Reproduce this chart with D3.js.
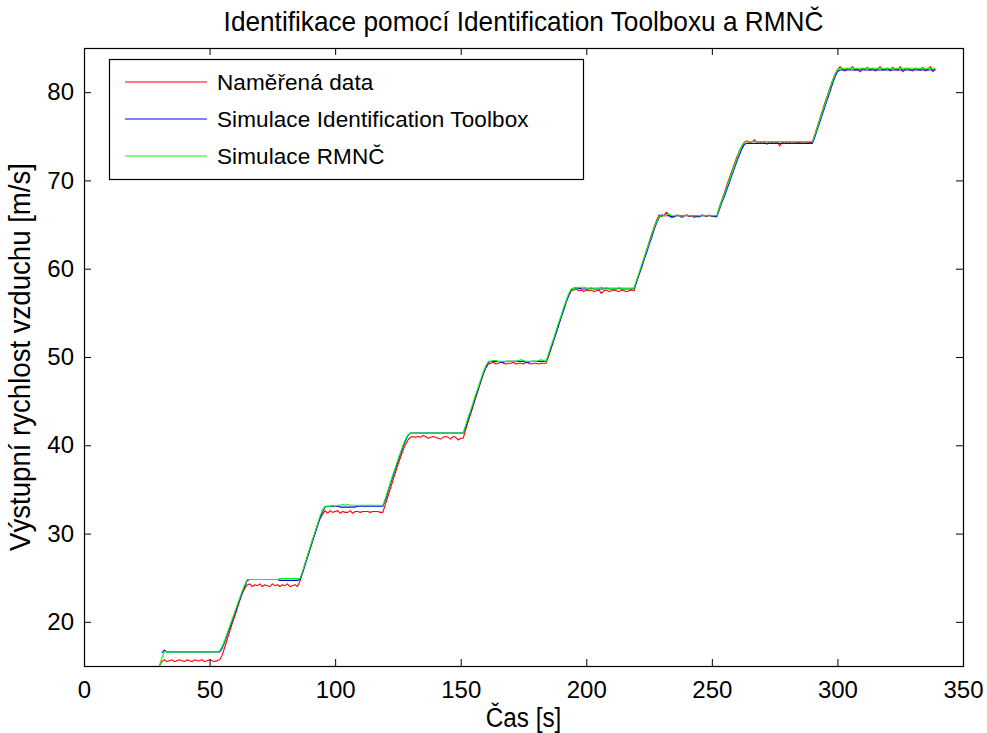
<!DOCTYPE html>
<html>
<head>
<meta charset="utf-8">
<script src="https://cdn.jsdelivr.net/npm/d3@7"></script>
<style>
  html, body { margin: 0; padding: 0; background: #fff; }
  svg { display: block; }
  text { font-family: "Liberation Sans", Arial, sans-serif; }
</style>
</head>
<body>
<script>
// Sampling: one value per second, starting at t = 30 s
const tStart = 30;
const tStep = 1;

const xTicks = [0, 50, 100, 150, 200, 250, 300, 350];
const yTicks = [20, 30, 40, 50, 60, 70, 80];

const seriesNames = ["Naměřená data", "Simulace Identification Toolbox", "Simulace RMNČ"];
const seriesColors = ["#ff0000", "#0000ff", "#00ff00"];

// Measured output air speed [m/s]
const measured = [
  15.0,
  15.5,15.7,15.5,15.6,15.7,15.5,15.6,15.7,15.6,15.5,15.7,15.6,15.5,15.7,15.6,15.6,15.7,15.5,15.6,15.7,15.6,15.5,15.6,15.7,
  16.2,17.1,18.0,18.9,19.8,20.6,21.5,22.4,23.2,23.8,24.2,
  24.3,24.0,24.2,24.1,24.3,24.0,24.2,24.1,24.0,24.3,24.1,24.2,24.0,24.2,24.1,24.3,24.0,24.1,24.2,24.0,
  24.6,25.6,26.6,27.5,28.4,29.3,30.1,31.0,31.7,32.2,32.6,
  32.3,32.6,32.4,32.5,32.6,32.3,32.5,32.4,32.4,32.6,32.3,32.5,32.5,32.4,32.5,32.5,32.5,32.4,32.5,32.5,32.5,32.4,32.4,
  33.3,34.2,35.1,36.0,36.9,37.8,38.6,39.4,40.1,40.6,40.9,
  41.0,40.9,41.0,40.9,41.1,41.0,40.8,40.9,41.0,40.9,40.8,40.7,40.9,41.0,40.9,40.7,41.0,40.9,40.6,40.8,40.8,
  41.8,42.7,43.6,44.5,45.4,46.3,47.2,48.1,48.8,49.2,
  49.3,49.4,49.2,49.3,49.4,49.3,49.2,49.3,49.3,49.4,49.2,49.3,49.3,49.2,49.4,49.3,49.2,49.3,49.3,49.2,49.3,49.3,49.3,
  50.1,51.0,51.9,52.8,53.7,54.6,55.5,56.3,57.0,57.5,
  57.6,57.7,57.5,57.6,57.4,57.6,57.5,57.6,57.4,57.5,57.6,57.2,57.5,57.6,57.4,57.5,57.6,57.5,57.4,57.6,57.5,57.4,57.5,57.6,57.5,
  58.5,59.4,60.3,61.2,62.1,63.0,63.9,64.7,65.5,66.1,
  65.9,66.1,66.4,66.0,65.8,65.9,66.1,66.0,65.8,66.0,66.1,65.9,66.0,65.8,66.0,65.9,66.1,66.0,65.9,66.1,65.9,66.0,66.0,
  67.0,67.8,68.6,69.5,70.3,71.1,71.9,72.7,73.4,73.9,74.3,
  74.5,74.2,74.4,74.6,74.3,74.2,74.4,74.3,74.1,74.4,74.3,74.2,74.4,73.9,74.3,74.4,74.2,74.3,74.4,74.2,74.3,74.3,74.4,74.2,74.3,74.3,74.3,
  75.2,76.1,77.0,77.9,78.8,79.6,80.5,81.3,82.0,82.5,
  82.9,82.6,82.4,82.7,82.6,82.9,82.5,82.6,82.3,82.7,82.6,82.8,82.5,82.7,82.4,82.6,82.9,82.5,82.6,82.7,
  82.4,82.8,82.6,82.5,82.9,82.3,82.6,82.7,82.5,82.4,82.7,82.6,82.5,82.8,82.4,82.6,82.9,82.3,82.6
];

// Model simulated with the Identification Toolbox
const simToolbox = [
  null,
  16.5,16.8,16.6,16.6,16.6,16.6,16.6,16.6,16.6,16.6,16.6,16.6,16.6,16.6,16.6,16.6,16.6,16.6,16.6,16.6,16.6,16.6,16.6,16.6,
  17.0,17.7,18.5,19.3,20.1,20.9,21.7,22.5,23.3,24.0,24.7,
  24.8,24.8,24.8,24.8,24.8,24.8,24.8,24.8,24.8,24.8,24.8,24.8,24.7,24.7,24.7,24.7,24.7,24.7,24.7,24.7,
  24.8,25.5,26.4,27.3,28.2,29.1,30.0,30.9,31.8,32.5,33.0,
  33.1,33.1,33.1,33.1,33.1,33.0,33.0,33.0,33.0,33.0,33.0,33.0,33.1,33.1,33.1,33.1,33.1,33.1,33.1,33.1,33.1,33.1,33.1,
  33.8,34.7,35.6,36.5,37.3,38.2,39.0,39.8,40.5,41.1,41.4,
  41.4,41.4,41.4,41.4,41.4,41.4,41.4,41.4,41.4,41.4,41.4,41.4,41.4,41.4,41.4,41.4,41.4,41.4,41.4,41.4,41.4,
  42.1,43.0,43.8,44.7,45.6,46.4,47.3,48.1,48.8,49.4,
  49.5,49.5,49.5,49.5,49.4,49.4,49.5,49.5,49.5,49.5,49.5,49.5,49.5,49.5,49.4,49.4,49.5,49.5,49.5,49.5,49.5,49.5,49.5,
  50.2,51.0,51.9,52.7,53.6,54.5,55.3,56.2,57.0,57.6,
  57.8,57.8,57.8,57.7,57.7,57.7,57.7,57.8,57.7,57.7,57.7,57.7,57.7,57.8,57.7,57.7,57.7,57.7,57.8,57.7,57.7,57.7,57.7,57.7,57.8,
  58.5,59.3,60.1,61.0,61.8,62.7,63.5,64.4,65.2,65.8,
  66.1,66.0,66.0,66.0,65.9,65.9,66.0,66.0,66.0,66.0,66.0,66.0,66.0,66.0,65.9,65.9,66.0,66.0,66.0,66.0,66.0,65.9,65.9,
  66.7,67.5,68.2,69.0,69.8,70.6,71.4,72.2,72.9,73.6,74.1,
  74.2,74.2,74.2,74.2,74.2,74.2,74.2,74.2,74.2,74.2,74.2,74.2,74.2,74.2,74.2,74.2,74.2,74.2,74.2,74.2,74.2,74.2,74.2,74.2,74.2,74.2,74.2,
  74.9,75.8,76.6,77.5,78.3,79.2,80.0,80.9,81.7,82.3,
  82.5,82.5,82.5,82.5,82.5,82.5,82.5,82.5,82.5,82.5,82.5,82.5,82.5,82.5,82.5,82.5,82.5,82.5,82.5,82.5,
  82.5,82.5,82.5,82.5,82.5,82.5,82.5,82.5,82.5,82.5,82.5,82.5,82.5,82.5,82.5,82.5,82.5,82.5,82.5
];

// Model identified by recursive least squares (RMNČ)
const simRmnc = [
  15.0,
  15.9,16.6,16.6,16.6,16.6,16.6,16.6,16.6,16.6,16.6,16.6,16.6,16.6,16.6,16.6,16.6,16.6,16.6,16.6,16.6,16.6,16.6,16.6,16.7,
  17.2,17.9,18.7,19.5,20.3,21.1,21.9,22.7,23.5,24.2,24.8,
  24.8,24.8,24.8,24.8,24.8,24.8,24.8,24.8,24.8,24.8,24.8,24.8,24.9,24.9,24.9,24.9,24.9,24.9,24.9,24.9,
  24.9,25.7,26.6,27.5,28.4,29.3,30.2,31.1,32.0,32.7,33.1,
  33.1,33.1,33.2,33.1,33.2,33.2,33.3,33.2,33.3,33.2,33.2,33.2,33.2,33.2,33.2,33.2,33.2,33.2,33.2,33.2,33.2,33.2,33.2,
  34.0,34.9,35.8,36.7,37.5,38.4,39.2,40.0,40.7,41.2,41.4,
  41.4,41.4,41.4,41.4,41.4,41.4,41.4,41.4,41.4,41.4,41.4,41.4,41.4,41.4,41.4,41.4,41.4,41.4,41.4,41.4,41.4,
  42.3,43.2,44.0,44.9,45.8,46.6,47.5,48.3,49.0,49.5,
  49.5,49.6,49.6,49.5,49.5,49.5,49.5,49.5,49.5,49.5,49.5,49.6,49.7,49.6,49.5,49.5,49.5,49.5,49.5,49.6,49.7,49.6,49.5,
  50.4,51.3,52.1,53.0,53.9,54.7,55.6,56.4,57.2,57.7,
  57.8,57.8,57.9,57.9,57.9,57.8,57.8,57.8,57.8,57.8,57.8,57.9,57.8,57.8,57.8,57.8,57.8,57.8,57.8,57.8,57.8,57.8,57.8,57.8,57.8,
  58.7,59.5,60.4,61.2,62.1,62.9,63.8,64.6,65.4,65.9,
  66.0,66.0,66.1,66.2,66.0,66.0,66.0,66.0,66.0,66.0,66.1,66.0,66.0,66.0,66.0,66.0,66.0,66.0,66.0,66.0,66.0,66.0,66.0,
  66.9,67.7,68.5,69.3,70.1,70.9,71.7,72.5,73.3,74.0,74.4,
  74.4,74.4,74.4,74.4,74.4,74.4,74.4,74.4,74.4,74.4,74.4,74.4,74.4,74.4,74.4,74.4,74.4,74.4,74.4,74.4,74.4,74.4,74.4,74.4,74.4,74.4,74.4,
  75.1,76.0,76.9,77.8,78.6,79.5,80.4,81.2,82.0,82.6,
  82.7,82.7,82.7,82.7,82.7,82.7,82.7,82.7,82.7,82.7,82.7,82.7,82.7,82.7,82.7,82.7,82.7,82.7,82.7,82.7,
  82.7,82.7,82.7,82.7,82.7,82.7,82.7,82.7,82.7,82.7,82.7,82.7,82.7,82.7,82.7,82.7,82.7,82.7,82.7
];

const W = 987, H = 733;
const plot = { left: 84, top: 48, right: 963, bottom: 666 };

const svg = d3.select("body").append("svg")
  .attr("width", W).attr("height", H);

const x = d3.scaleLinear().domain([0, 350]).range([plot.left, plot.right]);
const y = d3.scaleLinear().domain([15, 85]).range([plot.bottom, plot.top]);

// Series lines, clipped to the axes box
svg.append("clipPath").attr("id", "plot-clip")
  .append("rect")
  .attr("x", plot.left).attr("y", plot.top)
  .attr("width", plot.right - plot.left).attr("height", plot.bottom - plot.top);

const line = d3.line()
  .defined(d => d.v !== null)
  .x(d => x(d.t))
  .y(d => y(d.v));

const toPoints = arr => arr.map((v, i) => ({ t: tStart + i * tStep, v }));

const lines = svg.append("g").attr("clip-path", "url(#plot-clip)");
[measured, simToolbox, simRmnc].forEach((arr, k) => {
  lines.append("path")
    .datum(toPoints(arr))
    .attr("fill", "none")
    .attr("stroke", seriesColors[k])
    .attr("stroke-width", 1.1)
    .attr("stroke-linejoin", "round")
    .attr("d", line);
});

// Axes: ticks point inward on all four sides
const tickLen = 7;
const fontTick = 24;

function styleAxis(g) {
  g.select(".domain").remove();
  g.selectAll(".tick line").attr("stroke", "#000").attr("stroke-width", 1);
  g.selectAll(".tick text").attr("fill", "#000").attr("font-size", fontTick);
}

svg.append("g")
  .attr("transform", `translate(0,${plot.bottom})`)
  .call(d3.axisBottom(x).tickValues(xTicks).tickSizeInner(-tickLen).tickSizeOuter(0).tickPadding(15))
  .call(styleAxis);

svg.append("g")
  .attr("transform", `translate(0,${plot.top})`)
  .call(d3.axisTop(x).tickValues(xTicks).tickSizeInner(-tickLen).tickSizeOuter(0).tickFormat(""))
  .call(styleAxis);

svg.append("g")
  .attr("transform", `translate(${plot.left},0)`)
  .call(d3.axisLeft(y).tickValues(yTicks).tickSizeInner(-tickLen).tickSizeOuter(0).tickPadding(10))
  .call(styleAxis);

svg.append("g")
  .attr("transform", `translate(${plot.right},0)`)
  .call(d3.axisRight(y).tickValues(yTicks).tickSizeInner(-tickLen).tickSizeOuter(0).tickFormat(""))
  .call(styleAxis);

svg.append("rect")
  .attr("x", plot.left + 0.5).attr("y", plot.top + 0.5)
  .attr("width", plot.right - plot.left).attr("height", plot.bottom - plot.top)
  .attr("fill", "none").attr("stroke", "#000").attr("stroke-width", 1.2);

// Titles (slightly condensed lettering)
const cx = (plot.left + plot.right) / 2;
svg.append("text")
  .attr("transform", `translate(${cx},31) scale(0.92,1)`)
  .attr("text-anchor", "middle").attr("font-size", 28.5)
  .text("Identifikace pomocí Identification Toolboxu a RMNČ");

svg.append("text")
  .attr("transform", `translate(${cx},727) scale(0.9,1)`)
  .attr("text-anchor", "middle").attr("font-size", 27)
  .text("Čas [s]");

svg.append("text")
  .attr("transform", `translate(30,${(plot.top + plot.bottom) / 2}) rotate(-90) scale(0.92,1)`)
  .attr("text-anchor", "middle").attr("font-size", 30)
  .text("Výstupní rychlost vzduchu [m/s]");

// Legend
const legend = svg.append("g").attr("class", "legend");
legend.append("rect")
  .attr("x", 109.5).attr("y", 59.5).attr("width", 474).attr("height", 120)
  .attr("fill", "#fff").attr("stroke", "#000").attr("stroke-width", 1.2);
const rowY = [82, 119, 156];
seriesNames.forEach((name, k) => {
  legend.append("line")
    .attr("x1", 125).attr("x2", 207)
    .attr("y1", rowY[k]).attr("y2", rowY[k])
    .attr("stroke", seriesColors[k]).attr("stroke-width", 1.1);
  legend.append("text")
    .attr("x", 217).attr("y", rowY[k] + 8)
    .attr("font-size", 22.5).attr("letter-spacing", 0.1).attr("fill", "#000")
    .text(name);
});
</script>
</body>
</html>
